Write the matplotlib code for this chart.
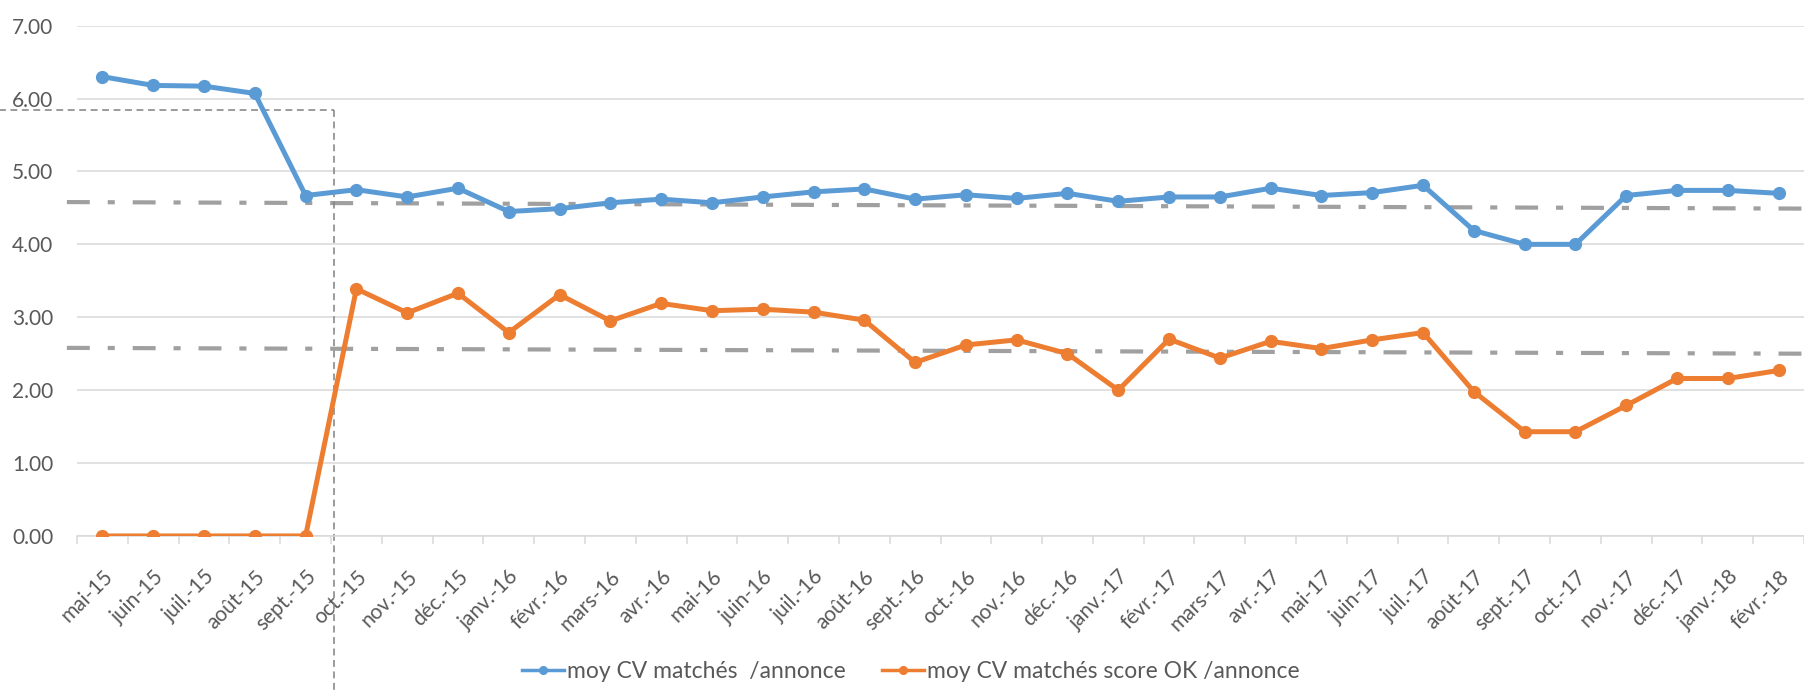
import numpy as np
import matplotlib
matplotlib.use('Agg')
import matplotlib.pyplot as plt

plt.rcParams['font.family'] = ['Lato', 'DejaVu Sans']

# months mai-15 .. févr.-18
months = ['mai-15', 'juin-15', 'juil.-15', 'août-15', 'sept.-15', 'oct.-15', 'nov.-15', 'déc.-15',
          'janv.-16', 'févr.-16', 'mars-16', 'avr.-16', 'mai-16', 'juin-16', 'juil.-16', 'août-16',
          'sept.-16', 'oct.-16', 'nov.-16', 'déc.-16', 'janv.-17', 'févr.-17', 'mars-17', 'avr.-17',
          'mai-17', 'juin-17', 'juil.-17', 'août-17', 'sept.-17', 'oct.-17', 'nov.-17', 'déc.-17',
          'janv.-18', 'févr.-18']

cv_matches = [6.30, 6.18, 6.17, 6.07, 4.67, 4.75, 4.65, 4.77,
              4.45, 4.49, 4.57, 4.62, 4.57, 4.65, 4.72, 4.76,
              4.62, 4.68, 4.63, 4.70, 4.59, 4.65, 4.65, 4.77,
              4.67, 4.71, 4.81, 4.19, 4.00, 4.00, 4.67, 4.74,
              4.74, 4.70]

cv_score_ok = [0.0, 0.0, 0.0, 0.0, 0.0, 3.39, 3.06, 3.33,
               2.79, 3.31, 2.95, 3.19, 3.09, 3.11, 3.07, 2.96,
               2.38, 2.62, 2.69, 2.50, 2.00, 2.70, 2.44, 2.67,
               2.57, 2.69, 2.79, 1.98, 1.43, 1.43, 1.79, 2.16,
               2.16, 2.27]

# hand drawn trend lines (start / end value)
trend_x = [-0.7, 33.6]
trend_blue = [4.58, 4.49]
trend_orange = [2.58, 2.50]

# thin dashed marker (cut between sept.-15 and oct.-15)
cut_x = 4.55
cut_y = 5.84

blue = '#5B9BD5'
orange = '#ED7D31'
grey_txt = '#595959'
grid_col = '#d9d9d9'

fig = plt.figure(figsize=(18.04, 6.93), dpi=100)
ax = fig.add_axes([0.0427, 0.2266, 0.9573, 0.7364])

x = np.arange(len(months))

ax.set_xlim(-0.5, len(months) - 0.5)
ax.set_ylim(0, 7)
ax.set_yticks(np.arange(0, 8, 1))
ax.yaxis.set_major_formatter(matplotlib.ticker.FormatStrFormatter('%.2f'))
ax.grid(axis='y', color=grid_col, linewidth=1.1, zorder=0)
ax.set_axisbelow(True)

for s in ['top', 'right', 'left']:
    ax.spines[s].set_visible(False)
ax.spines['bottom'].set_color(grid_col)
ax.spines['bottom'].set_linewidth(1.1)

ax.set_xticks(x)
ax.set_xticklabels(months, rotation=45, ha='right', rotation_mode='anchor')
ax.set_xticks(np.arange(-0.5, len(months), 1), minor=True)
ax.tick_params(axis='x', which='major', length=0, pad=22, labelsize=15, labelcolor=grey_txt)
ax.tick_params(axis='x', which='minor', length=6, color=grid_col, width=1.1)
ax.tick_params(axis='y', length=0, pad=17, labelsize=15, labelcolor=grey_txt)

# trend lines
for vals in (trend_blue, trend_orange):
    ln, = ax.plot(trend_x, vals, color='#a0a0a0', linewidth=3, clip_on=False, zorder=2)
    ln.set_dashes((5.5, 4.3, 1.7, 4.3))
    ln.set_dash_capstyle('butt')

# thin dashed cut lines
ax.plot([-2.2, cut_x], [cut_y, cut_y], color='#808080', linewidth=1.1,
        linestyle=(0, (4.5, 3)), clip_on=False, zorder=2)
ax.plot([cut_x, cut_x], [cut_y, -2.3], color='#808080', linewidth=1.1,
        linestyle=(0, (4.5, 3)), clip_on=False, zorder=2)

ax.plot(x, cv_matches, color=blue, linewidth=3.6, marker='o', markersize=8.5,
        label='moy CV matchés  /annonce', zorder=3)
ax.plot(x, cv_score_ok, color=orange, linewidth=3.6, marker='o', markersize=8.5,
        label='moy CV matchés score OK /annonce', zorder=3)

leg = fig.legend(loc='lower center', bbox_to_anchor=(0.505, -0.014), ncol=2, frameon=False,
                 fontsize=16.5, handlelength=1.8, columnspacing=1.6, handletextpad=0.15,
                 markerscale=0.65)
for t in leg.get_texts():
    t.set_color(grey_txt)
for h in leg.legend_handles:
    h.set_linewidth(2.5)

fig.savefig('out.png', dpi=100)
